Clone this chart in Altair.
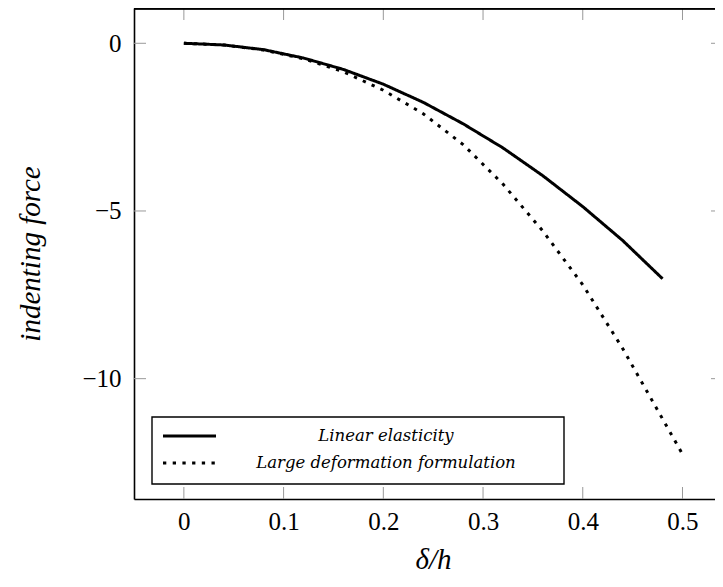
import altair as alt
import pandas as pd

# ---- data ----
x_linear = [0.0, 0.04, 0.08, 0.12, 0.16, 0.20, 0.24, 0.28, 0.32, 0.36, 0.40, 0.44, 0.48]
y_linear = [0.0, -0.05, -0.19, -0.44, -0.78, -1.22, -1.76, -2.40, -3.12, -3.95, -4.87, -5.88, -7.02]

x_large = [0.0, 0.04, 0.08, 0.12, 0.16, 0.20, 0.24, 0.28, 0.32, 0.36, 0.40, 0.44, 0.48, 0.50]
y_large = [0.0, -0.05, -0.20, -0.46, -0.85, -1.40, -2.10, -3.02, -4.20, -5.60, -7.20, -9.10, -11.20, -12.25]

series_names = ["Linear elasticity", "Large deformation formulation"]
x_ticks = [0, 0.1, 0.2, 0.3, 0.4, 0.5]
y_ticks = [0, -5, -10]

x_domain = [-0.05, 0.5326]
y_domain = [-13.588, 1.052]

W, H = 581, 491
TICK = 12
SERIF = "Liberation Serif, DejaVu Serif, serif"
LEG_FONT = "DejaVu Serif, Liberation Serif, serif"

df = pd.concat([
    pd.DataFrame({"delta": x_linear, "force": y_linear, "series": series_names[0]}),
    pd.DataFrame({"delta": x_large, "force": y_large, "series": series_names[1]}),
], ignore_index=True)
df["order"] = range(len(df))

xt = pd.DataFrame({"delta": x_ticks})
yt = pd.DataFrame({"force": y_ticks})
leg = pd.DataFrame({"series": series_names})

xscale = alt.Scale(domain=x_domain, nice=False, zero=False)
yscale = alt.Scale(domain=y_domain, nice=False, zero=False)
dash_scale = alt.Scale(domain=series_names, range=[[1, 0], [3.3, 6.4]])

x_axis = alt.Axis(
    values=x_ticks, ticks=False, grid=False, domainColor="black", domainWidth=1.6,
    labelFont=SERIF, labelFontSize=25, labelColor="black", labelPadding=10,
    labelExpr="datum.value == 0 ? '0' : format(datum.value, '.1f')",
    title="δ/h", titleFont=SERIF, titleFontStyle="italic", titleFontWeight="normal",
    titleFontSize=29, titleColor="black", titleX=299, titleY=69, titleAlign="center",
    titleBaseline="alphabetic", labelFlush=False,
)
y_axis = alt.Axis(
    values=y_ticks, ticks=False, grid=False, domainColor="black", domainWidth=1.6,
    labelFont=SERIF, labelFontSize=25, labelColor="black", labelPadding=13,
    labelExpr="datum.value < 0 ? '\u2212' + format(-datum.value, 'd') : '0'",
    title="indenting force", titleFont=SERIF, titleFontStyle="italic",
    titleFontWeight="normal", titleFontSize=29, titleColor="black", titlePadding=36,
    labelFlush=False,
)

lines = alt.Chart(df).mark_line(color="black", strokeWidth=3, strokeCap="butt", clip=True).encode(
    x=alt.X("delta:Q", scale=xscale, axis=x_axis),
    y=alt.Y("force:Q", scale=yscale, axis=y_axis),
    strokeDash=alt.StrokeDash("series:N", scale=dash_scale, legend=None),
    order="order:Q",
)

rule_style = dict(color="#999999", strokeWidth=1)
top_ticks = alt.Chart(xt).mark_rule(**rule_style).encode(
    x=alt.X("delta:Q", scale=xscale), y=alt.value(0), y2=alt.value(TICK))
bot_ticks = alt.Chart(xt).mark_rule(**rule_style).encode(
    x=alt.X("delta:Q", scale=xscale), y=alt.value(H - TICK), y2=alt.value(H))
left_ticks = alt.Chart(yt).mark_rule(**rule_style).encode(
    y=alt.Y("force:Q", scale=yscale), x=alt.value(0), x2=alt.value(TICK))
right_ticks = alt.Chart(yt).mark_rule(**rule_style).encode(
    y=alt.Y("force:Q", scale=yscale), x=alt.value(W - 4), x2=alt.value(W))
top_border = alt.Chart(yt).mark_rule(color="black", strokeWidth=1.6).encode(
    x=alt.value(0), x2=alt.value(W), y=alt.value(0.8))

# ---- legend (box, samples, labels) ----
LX0, LX1, LY0, LY1 = 18, 430, 409, 476
ROW_Y = [428, 455]
legend_box = alt.Chart(leg).mark_rect(
    fill="white", stroke="black", strokeWidth=1.4
).transform_filter(alt.datum.series == series_names[0]).encode(
    x=alt.value(LX0), x2=alt.value(LX1), y=alt.value(LY0), y2=alt.value(LY1))

legend_rows = []
for i, name in enumerate(series_names):
    sample = alt.Chart(leg).mark_rule(color="black", strokeWidth=3, strokeCap="butt").transform_filter(
        alt.datum.series == name
    ).encode(
        x=alt.value(LX0 + 11), x2=alt.value(LX0 + 64), y=alt.value(ROW_Y[i]),
        strokeDash=alt.StrokeDash("series:N", scale=dash_scale, legend=None),
    )
    label = alt.Chart(leg).mark_text(
        font=LEG_FONT, fontStyle="italic", fontSize=16.5, color="black",
        align="center", baseline="middle",
    ).transform_filter(alt.datum.series == name).encode(
        x=alt.value(252), y=alt.value(ROW_Y[i]), text="series:N")
    legend_rows += [sample, label]

chart = alt.layer(
    top_ticks, bot_ticks, left_ticks, right_ticks, top_border, lines, legend_box, *legend_rows
).properties(
    width=W, height=H,
    autosize=alt.AutoSizeParams(type="none"),
    padding={"left": 126, "top": 0, "right": 0, "bottom": 76},
).configure_view(stroke=None).configure(background="white")

chart.save("out.html", embed_options={"renderer": "svg", "actions": False})
